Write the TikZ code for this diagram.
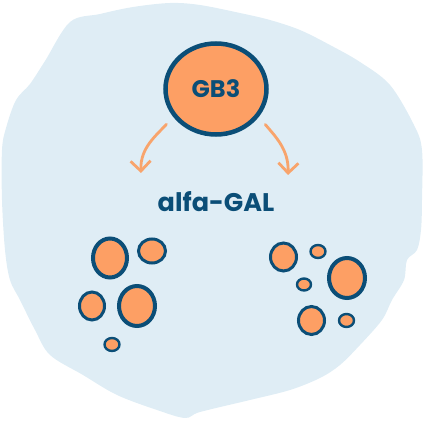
\documentclass[tikz,border=0pt]{standalone}
\usepackage{fontspec}
\setmainfont{Poppins}
\usepackage{tikz}
\usetikzlibrary{arrows.meta,shapes.geometric,positioning}

\definecolor{blobblue}{HTML}{DFEDF5}
\definecolor{navy}{HTML}{0B4E77}
\definecolor{cellorange}{HTML}{FD9F64}
\definecolor{arroworange}{HTML}{F8A46C}

\begin{document}
\begin{tikzpicture}[x=1pt,y=1pt,
    cell/.style={ellipse, draw=navy, fill=cellorange, inner sep=0pt},
    thickcell/.style={cell, line width=4pt},
    midcell/.style={cell, line width=3pt},
    thincell/.style={cell, line width=2.4pt},
    flow/.style={draw=arroworange, line width=2.8pt, line cap=round, line join=round,
                 -{Straight Barb[length=10pt,width=20pt]}},
    lbl/.style={text=navy, font=\bfseries}]
  \useasboundingbox (0,0) rectangle (424,421);

  % background blob
  \fill[blobblue] plot[smooth cycle, tension=0.55] coordinates {
      (70,399) (100,407) (133,414) (170,418) (200,416) (240,408) (270,401)
      (300,391) (330,376) (360,359) (390,336) (414,296) (422,271) (422,221)
      (421,191) (417,171) (407,161) (404,141) (392,121) (382,101) (360,76)
      (340,56) (320,43) (290,31) (250,21) (200,9) (185,3) (157,11) (117,26)
      (83,46) (50,66) (35,91) (20,121) (10,141) (5,171) (2,221) (2,271)
      (6,293) (16,321) (30,337) (45,360)};

  \node[ellipse, draw=navy, fill=cellorange, line width=4.5pt, inner sep=0pt,
        minimum width=101pt, minimum height=91pt,
        lbl, font=\bfseries\fontsize{24}{24}\selectfont] (gb3) at (216,332) {GB3};
  \node[lbl, font=\bfseries\fontsize{25.5}{25.5}\selectfont]
        (alfagal) [below of=gb3, node distance=113pt] {alfa-GAL};

  \coordinate (lefttip)  at (141,248);
  \coordinate (righttip) at (288,246);
  \draw[flow, shorten <=10pt] (gb3.213) to[out=228, in=92] (lefttip);
  \draw[flow, shorten <=10pt] (gb3.-33) to[out=-50, in=88] (righttip);

  % left group
  \node[thickcell, minimum width=34pt, minimum height=39pt] (c1) at (110,163) {};
  \node[midcell,   minimum width=27pt, minimum height=24pt] (c2) at (152,170) {};
  \node[midcell,   minimum width=25pt, minimum height=28pt] (c3) at (92,115) {};
  \node[thickcell, minimum width=36pt, minimum height=40pt] (c4) at (137,115) {};
  \node[thincell,  minimum width=15pt, minimum height=13pt] (c5) at (112,76.5) {};
  % right group
  \node[midcell,   minimum width=26pt, minimum height=28pt] (c6) at (283.5,164) {};
  \node[thincell,  minimum width=15pt, minimum height=13pt] (c7) at (318,169.5) {};
  \node[thickcell, minimum width=36pt, minimum height=40pt] (c8) at (347,143) {};
  \node[thincell,  minimum width=14pt, minimum height=12pt] (c9) at (304,136.5) {};
  \node[midcell,   minimum width=26pt, minimum height=28pt] (c10) at (311.5,100.5) {};
  \node[thincell,  minimum width=15pt, minimum height=13pt] (c11) at (346.5,100.5) {};
\end{tikzpicture}
\end{document}
